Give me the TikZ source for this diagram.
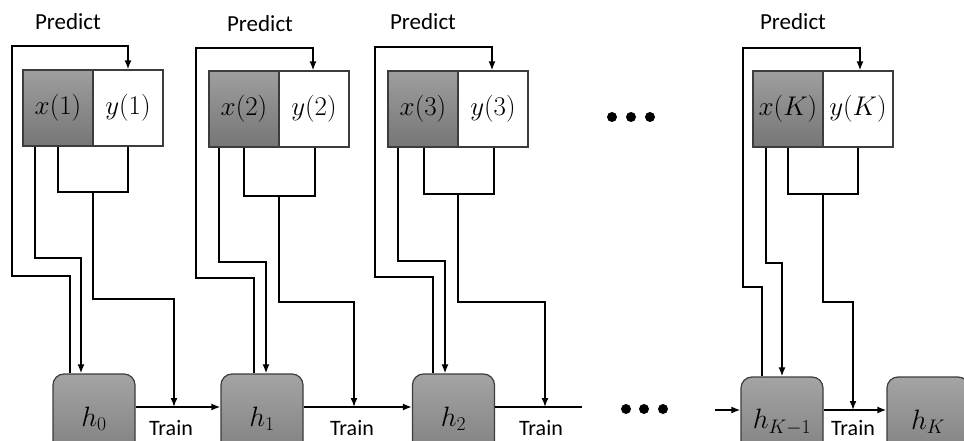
\RequirePackage{fix-cm}
\documentclass[tikz,border=0pt]{standalone}
\usepackage{fontspec}
\setmainfont{Carlito}
\usetikzlibrary{arrows.meta}
\definecolor{cellTop}{HTML}{9E9E9E}
\definecolor{cellBot}{HTML}{767676}
\definecolor{hTop}{HTML}{A4A4A4}
\definecolor{hBot}{HTML}{7C7C7C}
\definecolor{edge}{HTML}{3C3C3C}
\newcommand\cellfont{\fontsize{27}{31}\selectfont}
\newcommand\hypfont{\fontsize{28}{32}\selectfont}
\begin{document}
\begin{tikzpicture}[x=1pt,y=-1pt,
  wire/.style={line width=1.6pt,black},
  arr/.style={wire,-{Latex[length=9pt,width=7pt]}},
  xcell/.style={draw=edge,line width=1.2pt,top color=cellTop,bottom color=cellBot,
    minimum width=70pt,minimum height=76pt,inner sep=0pt,font=\cellfont},
  ycell/.style={xcell,top color=white,bottom color=white},
  hnode/.style={draw=edge,line width=1.2pt,rounded corners=11pt,top color=hTop,bottom color=hBot,
    minimum width=82pt,minimum height=90pt,inner sep=0pt,font=\hypfont},
  lbl/.style={font=\fontsize{23}{26}\selectfont,inner sep=0pt},
  trainlbl/.style={font=\fontsize{22}{25}\selectfont,inner sep=0pt},
  dot/.style={circle,fill=black,minimum size=10pt,inner sep=0pt}]
\useasboundingbox (0,0) rectangle (964,441);
\clip (0,0) rectangle (964,441);

% data cells
\node[xcell] (x1) at (58,108) {$x(1)$};
\node[ycell] (y1) at (128,108) {$y(1)$};
\node[xcell] (x2) at (244,109) {$x(2)$};
\node[ycell] (y2) at (314,109) {$y(2)$};
\node[xcell] (x3) at (423,109) {$x(3)$};
\node[ycell] (y3) at (493,109) {$y(3)$};
\node[xcell] (xK) at (788,109) {$x(K)$};
\node[ycell] (yK) at (858,109) {$y(K)$};

% hypotheses
\node[hnode] (h0) at (94,419) {$h_0$};
\node[hnode] (h1) at (262,419) {$h_1$};
\node[hnode] (h2) at (453.5,419) {$h_2$};
\node[hnode] (hK1) at (782,422) {$h_{K-1}$};
\node[hnode] (hK) at (928,422) {$h_K$};

% labels
\node[lbl] (p1) at (68,22) {Predict};
\node[lbl] (p2) at (260,24) {Predict};
\node[lbl] (p3) at (423,22) {Predict};
\node[lbl] (pK) at (793,22) {Predict};
\node[trainlbl] (t1) at (171,428) {Train};
\node[trainlbl] (t2) at (352,428) {Train};
\node[trainlbl] (t3) at (541,428) {Train};
\node[trainlbl] (tK) at (853,428) {Train};

% ellipsis dots
\node[dot] (da1) at (612,117) {};
\node[dot] (da2) at (631,117) {};
\node[dot] (da3) at (650,117) {};
\node[dot] (db1) at (626,409) {};
\node[dot] (db2) at (644,409) {};
\node[dot] (db3) at (663,409) {};

% block 1
\draw[arr] (h0.north -| 70,0) -- (70,276) -- (12,276) -- (12,46) -- (128,46) -- (y1.north);
\draw[arr] (x1.south -| 35,0) -- (35,258) -- (81,258) -- (h0.north -| 81,0);
\draw[wire] (x1.south -| 58,0) -- (58,192) -- (128,192) -- (y1.south);
\draw[arr] (93,192) -- (93,299) -- (174,299) -- (174,407);
\draw[arr] (h0.east |- 0,407) -- (h1.west |- 0,407);

% block 2
\draw[arr] (h1.north -| 254,0) -- (254,278) -- (196,278) -- (196,48) -- (313,48) -- (y2.north -| 313,0);
\draw[arr] (x2.south -| 219,0) -- (219,262) -- (266,262) -- (h1.north -| 266,0);
\draw[wire] (x2.south -| 244,0) -- (244,196) -- (315,196) -- (y2.south -| 315,0);
\draw[arr] (279,196) -- (279,302) -- (354,302) -- (354,407);
\draw[arr] (h1.east |- 0,407) -- (h2.west |- 0,407);

% block 3
\draw[arr] (h2.north -| 433,0) -- (433,277) -- (375,277) -- (375,47) -- (492,47) -- (y3.north -| 492,0);
\draw[arr] (x3.south -| 398,0) -- (398,261) -- (445,261) -- (h2.north -| 445,0);
\draw[wire] (x3.south -| 424,0) -- (424,194) -- (494,194) -- (y3.south -| 494,0);
\draw[arr] (458,194) -- (458,302) -- (545,302) -- (545,407);
\coordinate (e3) at (582,407);
\draw[wire] (h2.east |- 0,407) -- (e3);

% block K
\draw[arr] (hK1.north -| 762,0) -- (762,287) -- (743,287) -- (743,48) -- (860,48) -- (yK.north -| 860,0);
\draw[arr] (xK.south -| 766,0) -- (766,263) -- (782,263) -- (hK1.north -| 782,0);
\draw[wire] (xK.south -| 788,0) -- (788,194) -- (858,194) -- (yK.south -| 858,0);
\draw[arr] (823,194) -- (823,302) -- (853,302) -- (853,410);
\coordinate (sK) at (715,410);
\draw[arr] (sK) -- (hK1.west |- 0,410);
\draw[arr] (hK1.east |- 0,410) -- (hK.west |- 0,410);
\end{tikzpicture}
\end{document}
